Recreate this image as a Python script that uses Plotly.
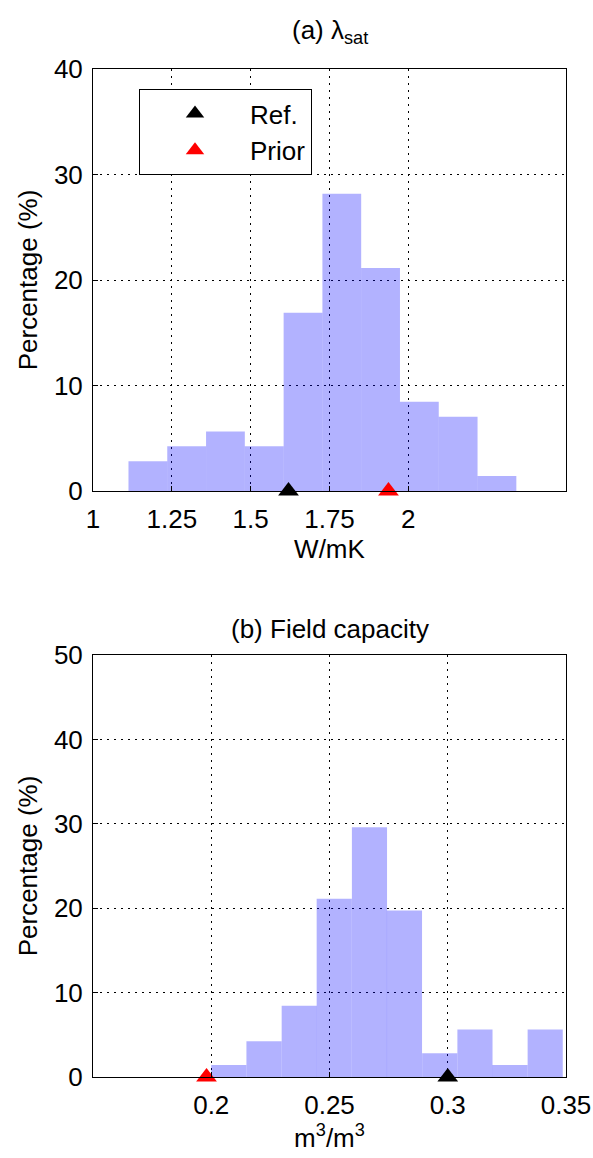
import plotly.graph_objects as go

# ---- data ----
lam_centers = [1.174, 1.297, 1.420, 1.543, 1.666, 1.789, 1.912, 2.035, 2.158, 2.281]
lam_pct = [2.82, 4.23, 5.63, 4.23, 16.90, 28.17, 21.13, 8.45, 7.04, 1.41]
lam_width = 0.123
lam_ref = [1.62]
lam_prior = [1.937]
lam_ticks = [1, 1.25, 1.5, 1.75, 2]
lam_ticklabels = ["1", "1.25", "1.5", "1.75", "2"]

fc_centers = [0.2074, 0.2223, 0.2372, 0.2520, 0.2669, 0.2817, 0.2966, 0.3115, 0.3263, 0.3412]
fc_pct = [1.41, 4.23, 8.45, 21.13, 29.58, 19.72, 2.82, 5.63, 1.41, 5.63]
fc_width = 0.01486
fc_ref = [0.30]
fc_prior = [0.198]
fc_ticks = [0.2, 0.25, 0.3, 0.35]
fc_ticklabels = ["0.2", "0.25", "0.3", "0.35"]

FONT = "Liberation Sans, Arial, sans-serif"
FS = 26
BAR_COLOR = "rgba(0,0,255,0.30)"
W, H = 593, 1158

fig = go.Figure()

# top panel
fig.add_trace(go.Bar(x=lam_centers, y=lam_pct, width=lam_width, marker=dict(color=BAR_COLOR, line=dict(width=0)),
                     showlegend=False, xaxis="x", yaxis="y"))
fig.add_trace(go.Scatter(x=lam_ref, y=[0], mode="markers", name="Ref.",
                         marker=dict(symbol="triangle-up", size=18, color="black"),
                         cliponaxis=False, xaxis="x", yaxis="y"))
fig.add_trace(go.Scatter(x=lam_prior, y=[0], mode="markers", name="Prior",
                         marker=dict(symbol="triangle-up", size=18, color="red"),
                         cliponaxis=False, xaxis="x", yaxis="y"))

# bottom panel
fig.add_trace(go.Bar(x=fc_centers, y=fc_pct, width=fc_width, marker=dict(color=BAR_COLOR, line=dict(width=0)),
                     showlegend=False, xaxis="x2", yaxis="y2"))
fig.add_trace(go.Scatter(x=fc_ref, y=[0], mode="markers", showlegend=False,
                         marker=dict(symbol="triangle-up", size=18, color="black"),
                         cliponaxis=False, xaxis="x2", yaxis="y2"))
fig.add_trace(go.Scatter(x=fc_prior, y=[0], mode="markers", showlegend=False,
                         marker=dict(symbol="triangle-up", size=18, color="red"),
                         cliponaxis=False, xaxis="x2", yaxis="y2"))

axis_common = dict(
    showline=True, linecolor="black", linewidth=1, mirror=True,
    ticks="inside", ticklen=5, tickcolor="black",
    showgrid=True, gridcolor="black", gridwidth=1, griddash="2px,5px",
    zeroline=False, automargin=False,
    tickfont=dict(size=FS, color="black", family=FONT),
)
xtitle_font = dict(size=FS, color="black", family=FONT)

xd = [93 / W, 566 / W]
fig.update_layout(
    width=W, height=H,
    margin=dict(l=0, r=0, t=0, b=0, autoexpand=False),
    paper_bgcolor="white", plot_bgcolor="white",
    font=dict(family=FONT, size=FS, color="black"),
    barmode="overlay",
    xaxis=dict(domain=xd, anchor="y", range=[1, 2.5], tickvals=lam_ticks, ticktext=lam_ticklabels,
               ticklabelstandoff=5,
               title=dict(text="W/mK", standoff=4, font=xtitle_font), **axis_common),
    yaxis=dict(domain=[(H - 491) / H, (H - 69) / H], anchor="x", range=[0, 40], tickvals=[0, 10, 20, 30, 40],
               ticklabelstandoff=4,
               title=dict(text="Percentage (%)", standoff=8, font=xtitle_font), **axis_common),
    xaxis2=dict(domain=xd, anchor="y2", range=[0.15, 0.35], tickvals=fc_ticks, ticktext=fc_ticklabels,
                ticklabelstandoff=5,
                title=dict(text="m<sup>3</sup>/m<sup>3</sup>", standoff=6, font=xtitle_font), **axis_common),
    yaxis2=dict(domain=[(H - 1077) / H, (H - 655) / H], anchor="x2", range=[0, 50], tickvals=[0, 10, 20, 30, 40, 50],
                ticklabelstandoff=4,
                title=dict(text="Percentage (%)", standoff=8, font=xtitle_font), **axis_common),
    legend=dict(x=139 / W, y=1 - 89 / H, xanchor="left", yanchor="top",
                bgcolor="white", bordercolor="black", borderwidth=1,
                font=dict(size=FS, family=FONT, color="black"), itemwidth=100, tracegroupgap=0),
    annotations=[
        dict(text="(a) λ<sub>sat</sub>", x=329.5 / W, y=1 - 32 / H, xref="paper", yref="paper",
             xanchor="center", yanchor="middle", showarrow=False, font=dict(size=FS, family=FONT, color="black")),
        dict(text="(b) Field capacity", x=329.5 / W, y=1 - 629 / H, xref="paper", yref="paper",
             xanchor="center", yanchor="middle", showarrow=False, font=dict(size=FS, family=FONT, color="black")),
    ],
)

fig.write_html("out.html")
